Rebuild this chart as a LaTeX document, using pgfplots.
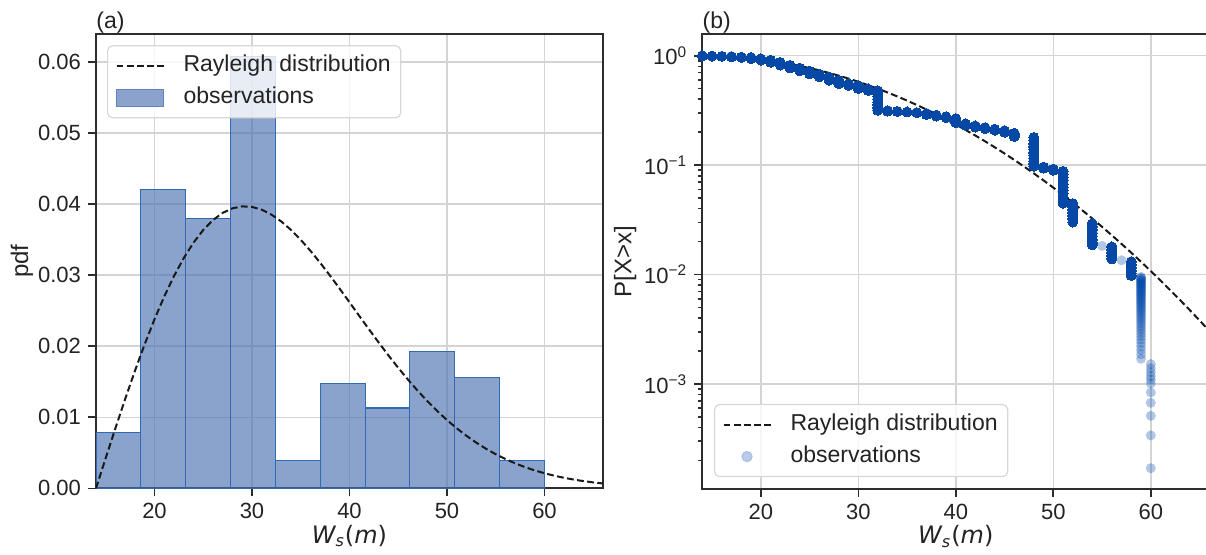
\documentclass[border=0pt]{standalone}
\usepackage{fontspec}
\setmainfont{Liberation Sans}
\newfontfamily\djv{DejaVu Sans}
\usepackage{pgfplots}
\pgfplotsset{compat=1.18}

\definecolor{barfill}{RGB}{76,114,176}
\definecolor{barlegend}{RGB}{139,163,204}
\definecolor{baredge}{RGB}{50,105,180}
\definecolor{obsblue}{RGB}{0,71,171}
\definecolor{obslight}{RGB}{170,190,226}
\definecolor{obsdense}{RGB}{5,72,165}
\definecolor{gridgray}{RGB}{212,212,212}
\definecolor{axgray}{RGB}{45,45,45}
\definecolor{txtgray}{RGB}{35,35,35}
\definecolor{leggray}{RGB}{215,215,215}
\definecolor{dashcol}{RGB}{25,25,25}

\newcommand{\tfont}{\fontsize{11}{13}\selectfont}

\pgfplotsset{
  mystyle/.style={
    scale only axis,
    axis line style={axgray, line width=0.9pt},
    tick style={axgray, line width=0.8pt},
    tick align=outside,
    tick pos=left,
    major tick length=4pt,
    minor tick length=2pt,
    grid=major,
    major grid style={gridgray, line width=0.75pt},
    every tick label/.append style={font=\tfont, text=txtgray},
    xticklabel style={font=\tfont, text=txtgray},
    yticklabel style={font=\tfont, text=txtgray},
    /pgf/number format/assume math mode=true,
    label style={font=\fontsize{12}{14}\selectfont, text=txtgray},
    legend style={font=\fontsize{11.5}{13.5}\selectfont, draw=leggray, line width=0.6pt, rounded corners=2.5pt, fill=white, fill opacity=0.8, text opacity=1, text=txtgray, inner xsep=4pt, inner ysep=3.5pt, row sep=3pt,
      nodes={inner sep=1pt, text height=8.5pt, text depth=2.5pt},
      /tikz/every odd column/.append style={column sep=8.5pt}},
    legend cell align=left,
    reverse legend,
    xmin=14, xmax=66, xtick={20,30,40,50,60},
    xlabel={{\djv\fontsize{12}{14}\selectfont\itshape W\textsubscript{s}\upshape(\itshape m\upshape)}},
    xlabel style={at={(axis description cs:0.5,-0.105)}, anchor=center},
  }
}

\begin{document}
\begin{tikzpicture}

% ---------- (a) ----------
\begin{axis}[mystyle, name=A,
  at={(48pt,32.85pt)}, anchor=south west,
  width=253.5pt, height=227pt,
  ymin=0, ymax=0.0639,
  ytick={0,0.01,0.02,0.03,0.04,0.05,0.06},
  scaled y ticks=false,
  yticklabel style={/pgf/number format/.cd, fixed, fixed zerofill, precision=2},
  ylabel={\fontsize{12}{14}\selectfont pdf},
  ylabel style={at={(axis description cs:-0.146,0.5)}, anchor=center},
  legend style={at={(axis description cs:0.0217,0.976)}, anchor=north west},
]
\addplot[ybar interval, fill=barfill, fill opacity=0.65, draw=baredge, line width=0.55pt, forget plot]
coordinates {(14,0.0078) (18.6,0.0420) (23.2,0.0380) (27.8,0.0608) (32.4,0.0039) (37,0.0147) (41.6,0.0113) (46.2,0.0193) (50.8,0.0156) (55.4,0.0039) (60,0.0039)};
\addlegendimage{legend image code/.code={\fill[barlegend, fill opacity=1, sharp corners] (0pt,-4.25pt) rectangle (23.5pt,4.25pt);
    \draw[baredge, draw opacity=0.5, line width=0.4pt, sharp corners] (0pt,-4.25pt) rectangle (23.5pt,4.25pt);}}
\addlegendentry{observations}
\addplot[dashcol, line width=1pt, dash pattern=on 3.4pt off 1.7pt,
  legend image code/.code={\draw[dashcol, line width=1pt, dash pattern=on 3.4pt off 1.7pt] (0pt,0pt) -- (23.5pt,0pt);}]
table {
x y
14 0
15 0.004274
16 0.008493
17 0.012604
18 0.016555
19 0.020299
20 0.023791
21 0.026994
22 0.029875
23 0.032409
24 0.034573
25 0.036359
26 0.037758
27 0.038773
28 0.039409
29 0.039681
30 0.039607
31 0.039212
32 0.038519
33 0.037561
34 0.036369
35 0.034978
36 0.033420
37 0.031732
38 0.029940
39 0.028080
40 0.026182
41 0.024271
42 0.022375
43 0.020511
44 0.018699
45 0.016955
46 0.015295
47 0.013724
48 0.012249
49 0.010877
50 0.009609
51 0.008448
52 0.007389
53 0.006429
54 0.005568
55 0.004797
56 0.004114
57 0.003511
58 0.002981
59 0.002521
60 0.002120
61 0.001775
62 0.001479
63 0.001227
64 0.001013
65 0.000833
66 0.000681
};
\addlegendentry{Rayleigh distribution}
\end{axis}

% ---------- (b) ----------
\begin{axis}[mystyle, name=B,
  at={(351.15pt,32.5pt)}, anchor=south west,
  width=253.5pt, height=227.35pt,
  ymode=log, ymin=1.097e-4, ymax=1.569,
  ytick={0.001,0.01,0.1,1},
  yticklabels={10\textsuperscript{−3},10\textsuperscript{−2},10\textsuperscript{−1},10\textsuperscript{0}},
  minor ytick={2e-4,3e-4,4e-4,5e-4,6e-4,7e-4,8e-4,9e-4,0.002,0.003,0.004,0.005,0.006,0.007,0.008,0.009,0.02,0.03,0.04,0.05,0.06,0.07,0.08,0.09,0.2,0.3,0.4,0.5,0.6,0.7,0.8,0.9},
  ylabel={\fontsize{12}{14}\selectfont P[X>x]},
  ylabel style={at={(axis description cs:-0.152,0.5)}, anchor=center},
  legend style={at={(axis description cs:0.023,0.026)}, anchor=south west},
]
\addplot[obsdense, only marks, mark=*, mark size=2.5pt, mark options={obsdense, fill=obsdense, line width=0pt}, forget plot]
coordinates {
(14,1.0)(14,0.996)(15,0.993)(16,0.988)(17,0.982)(17,0.977)(18,0.972)(18,0.966)
(19,0.962)(19,0.942)(20,0.938)(20,0.912)(21,0.908)(21,0.89)(21,0.872)
(22,0.868)(22,0.845)(22,0.822)(23,0.818)(23,0.795)(23,0.773)
(24,0.769)(24,0.747)(24,0.727)(25,0.723)(25,0.70)(25,0.682)
(26,0.678)(26,0.66)(26,0.642)(27,0.638)(27,0.617)(27,0.598)
(28,0.594)(28,0.575)(28,0.557)(29,0.553)(29,0.537)
(30,0.533)(30,0.516)(30,0.502)(31,0.498)(31,0.482)
(32,0.478)(32,0.45)(32,0.424)(32,0.40)(32,0.377)(32,0.355)(32,0.335)(32,0.318)
(33,0.315)(33,0.312)(34,0.310)(35,0.306)(36,0.302)
(37,0.296)(37,0.29)(38,0.286)(38,0.281)(39,0.277)(39,0.272)
(40,0.266)(40,0.255)(40,0.245)(41,0.238)(41,0.232)
(42,0.228)(42,0.223)(43,0.220)(43,0.216)(44,0.213)(44,0.209)
(45,0.206)(45,0.200)(46,0.196)(46,0.189)(46,0.183)
(48,0.179)(48,0.168)(48,0.157)(48,0.147)(48,0.139)(48,0.130)(48,0.123)(48,0.116)(48,0.109)(48,0.103)(48,0.098)
(49,0.096)(49,0.094)(50,0.092)(50,0.090)
(51,0.088)(51,0.082)(51,0.077)(51,0.072)(51,0.067)(51,0.063)(51,0.059)(51,0.055)(51,0.051)(51,0.048)(51,0.045)
(52,0.0445)(52,0.0418)(52,0.0392)(52,0.0367)(52,0.0344)(52,0.0322)(52,0.0302)
(54,0.0292)(54,0.0273)(54,0.0256)(54,0.0239)(54,0.0224)(54,0.021)(54,0.0197)(54,0.0187)
(56,0.0179)(56,0.0168)(56,0.0158)(56,0.0148)(56,0.0139)
(58,0.0131)(58,0.0123)(58,0.0116)(58,0.0109)(58,0.0103)(58,0.0098)
};
\addplot[obsblue, only marks, mark=*, mark size=2.5pt, mark options={obsblue, fill=obsblue, draw opacity=0, fill opacity=0.3, line width=0pt},
  legend image code/.code={\fill[obslight] (11.75pt,0pt) circle (2.5pt);}]
coordinates {
(55,0.0183)(57,0.0135)
(59,0.009524)(59,0.009354)(59,0.009184)(59,0.009014)(59,0.008844)(59,0.008673)(59,0.008503)(59,0.008333)
(59,0.008163)(59,0.007993)(59,0.007823)(59,0.007653)(59,0.007483)(59,0.007313)(59,0.007143)(59,0.006973)
(59,0.006803)(59,0.006633)(59,0.006463)(59,0.006293)(59,0.006122)(59,0.005952)(59,0.005782)(59,0.005612)
(59,0.005442)(59,0.005272)(59,0.005102)(59,0.004932)(59,0.004762)(59,0.004592)(59,0.004422)(59,0.004252)
(59,0.004082)(59,0.003912)(59,0.003741)(59,0.003571)(59,0.003401)(59,0.003231)(59,0.003061)(59,0.002891)
(59,0.002721)(59,0.002551)(59,0.002381)(59,0.002211)(59,0.002041)(59,0.001871)(59,0.001701)
(60,0.00152)(60,0.00139)(60,0.00128)(60,0.00118)(60,0.00110)(60,0.00101)(60,0.000838)(60,0.000673)(60,0.000512)(60,0.000339)(60,0.00017)
};
\addlegendentry{observations}
\addplot[dashcol, line width=1pt, dash pattern=on 3.4pt off 1.7pt,
  legend image code/.code={\draw[dashcol, line width=1pt, dash pattern=on 3.4pt off 1.7pt] (0pt,0pt) -- (23.5pt,0pt);}]
table {
x y
14 1
15 0.99786
16 0.99147
17 0.98091
18 0.96632
19 0.94787
20 0.92580
21 0.90038
22 0.87192
23 0.84075
24 0.80722
25 0.77172
26 0.73464
27 0.69636
28 0.65723
29 0.61765
30 0.57797
31 0.53853
32 0.49964
33 0.46156
34 0.42457
35 0.38889
36 0.35468
37 0.32212
38 0.29127
39 0.26225
40 0.23511
41 0.20989
42 0.18657
43 0.16513
44 0.14553
45 0.12770
46 0.11160
47 0.09710
48 0.08411
49 0.07255
50 0.06232
51 0.05331
52 0.04540
53 0.03849
54 0.03250
55 0.02732
56 0.02287
57 0.01906
58 0.01582
59 0.01308
60 0.01076
61 0.008820
62 0.007196
63 0.005847
64 0.004731
65 0.003811
66 0.003057
};
\addlegendentry{Rayleigh distribution}
\end{axis}

\node[anchor=base west, inner sep=0pt, text=txtgray, font=\fontsize{11.5}{13}\selectfont] at ([yshift=3pt]A.north west) {(a)};
\node[anchor=base west, inner sep=0pt, text=txtgray, font=\fontsize{11.5}{13}\selectfont] at ([yshift=3pt]B.north west) {(b)};

\pgfresetboundingbox
\path (0,0) rectangle (603pt,277pt);
\end{tikzpicture}
\end{document}
